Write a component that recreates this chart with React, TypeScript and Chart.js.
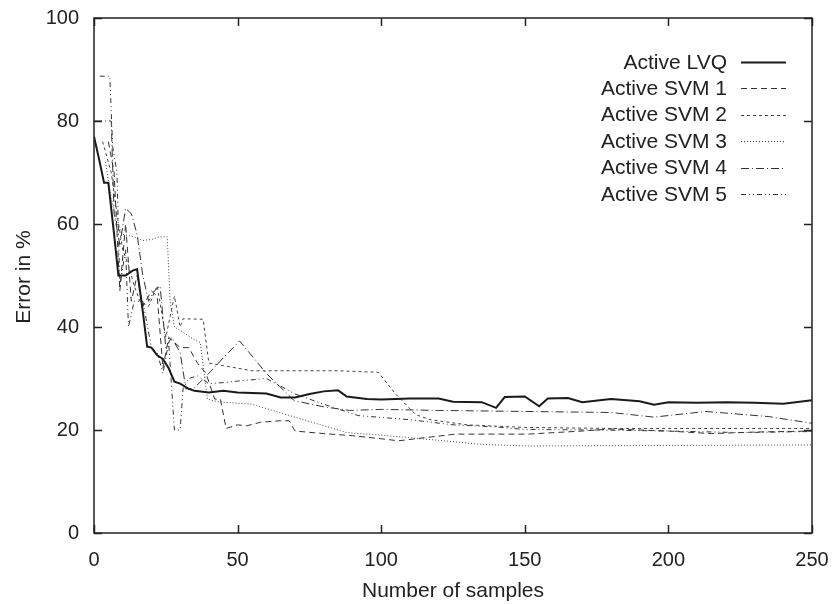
import React, { useEffect, useRef } from "react";
import { Chart, registerables } from "chart.js";

Chart.register(...registerables);

type P = [number, number];

const seriesNames = ["Active LVQ", "Active SVM 1", "Active SVM 2", "Active SVM 3", "Active SVM 4", "Active SVM 5"];

const lvq: P[] = [[0,77],[2,72],[3.5,68],[5,68],[7,58],[8.5,50],[11,50],[13.6,51],[15,51.2],[17,43],[18.5,36.2],[20,36],[22,34.5],[24,33.8],[26,32],[28,29.4],[30,29],[33,28],[35,27.6],[40,27.3],[45,27.6],[50,27.3],[60,27.1],[65,26.3],[70,26.3],[75,27],[80,27.5],[85,27.7],[88,26.5],[95,26],[100,25.9],[110,26.1],[120,26.1],[125,25.5],[135,25.4],[140,24.3],[143,26.4],[150,26.5],[155,24.6],[158,26.1],[165,26.2],[170,25.4],[180,26],[190,25.6],[195,24.9],[200,25.4],[210,25.3],[220,25.4],[230,25.3],[240,25.1],[250,25.8]];

const svm1: P[] = [[5,76],[7,70],[9,47],[11,60],[13,45],[15,50],[17,44],[20,47],[22,46],[24,32],[26,38],[28,37],[30,36],[33,36],[36,33],[39,31],[42,26],[44,26],[46,20.3],[50,21],[53,20.8],[58,21.5],[65,21.8],[68,21.8],[70,19.8],[80,19.3],[90,18.9],[100,18.3],[106,17.9],[115,18.5],[126,19.2],[140,19.2],[151,19.2],[170,19.8],[180,20.2],[200,19.8],[215,19.3],[230,19.6],[250,19.8]];

const svm2: P[] = [[3,76],[6,70],[8,62],[10,55],[12,52],[14,48],[16,45],[19,44],[22,48],[25,38],[28,46],[30,40],[31,41.6],[38,41.5],[40,33],[45,32.5],[50,32],[55,31.5],[70,31.5],[85,31.5],[99,31.2],[105,27],[112,23],[117,22],[130,21],[150,20.5],[180,20.3],[200,20.3],[250,20.3]];

const svm3: P[] = [[4,72],[6,65],[8,60],[10,58],[14,57.5],[17,56.8],[20,57],[23,57.5],[25.5,57.5],[26.5,45],[28,40],[31,39],[35,37.5],[37,37],[39.5,26],[43,25.5],[50,25.2],[55,25],[70,22.5],[88,19.5],[100,19],[120,18],[135,17.2],[151,16.9],[200,17],[250,17.1]];

const svm4: P[] = [[0,80],[6,80],[7,62],[9,56],[11,63],[13,62],[15,58],[17,50],[19,45],[21,47],[23,48],[25,36],[27,38],[30,35],[32,28],[34.6,28],[40,31],[45,34],[50.7,37.3],[60,31],[69.7,25.7],[80,24.5],[89,23.8],[100,24],[120,23.8],[150,23.6],[180,23.4],[195,22.5],[213,23.6],[235,22.6],[250,21.3]];

const svm5: P[] = [[2,88.7],[5.5,88.7],[6.5,75],[8,70],[9,48],[11,55],[12,40],[14,45],[17,45],[20,36],[22,35],[24,31],[26,37],[28,20],[30,20],[31,28],[33,30],[36,30.5],[40,29],[45,29.2],[50,29.5],[60,30],[70,27],[80,25],[92,22.8],[110,22],[125,21],[140,20.6],[150,20.1],[175,20],[200,19.8],[225,19.5],[250,19.7]];

const allSeries: P[][] = [lvq, svm1, svm2, svm3, svm4, svm5];
const xTicks = [0, 50, 100, 150, 200, 250];
const yTicks = [0, 20, 40, 60, 80, 100];

const dashes: number[][] = [[], [6, 4], [3, 3], [1, 2], [8, 3, 1, 3], [5, 3, 1, 3, 1, 3]];
const widths = [2, 1, 1, 1, 1, 1];
const colors = ["#1a1a1a", "#333", "#444", "#444", "#333", "#333"];

const FAMILY = "'Liberation Sans', Arial, sans-serif";
const BIG = "21px " + FAMILY;

const framePlugin = {
  id: "gnuframe",
  afterDraw(chart: any) {
    const { ctx, chartArea: a, scales } = chart;
    const xs = scales.x, ys = scales.y;
    ctx.save();
    ctx.strokeStyle = "#222";
    ctx.lineWidth = 1.5;
    ctx.setLineDash([]);
    ctx.strokeRect(a.left, a.top, a.right - a.left, a.bottom - a.top);
    const tl = 8;
    ctx.beginPath();
    for (const v of xTicks) {
      const px = Math.round(xs.getPixelForValue(v)) + 0.5;
      ctx.moveTo(px, a.bottom); ctx.lineTo(px, a.bottom - tl);
      ctx.moveTo(px, a.top); ctx.lineTo(px, a.top + tl);
    }
    for (const v of yTicks) {
      const py = Math.round(ys.getPixelForValue(v)) + 0.5;
      ctx.moveTo(a.left, py); ctx.lineTo(a.left + tl, py);
      ctx.moveTo(a.right, py); ctx.lineTo(a.right - tl, py);
    }
    ctx.stroke();

    // axis titles
    ctx.fillStyle = "#222";
    ctx.font = BIG;
    ctx.textAlign = "center";
    ctx.textBaseline = "middle";
    ctx.fillText("Number of samples", (a.left + a.right) / 2, 591);
    ctx.save();
    ctx.translate(24, 277);
    ctx.rotate(-Math.PI / 2);
    ctx.fillText("Error in %", 0, 0);
    ctx.restore();

    // legend
    const rowY = [62, 88, 114.5, 141, 167.5, 194];
    ctx.textAlign = "right";
    for (let i = 0; i < seriesNames.length; i++) {
      const y = rowY[i];
      ctx.fillStyle = "#222";
      ctx.fillText(seriesNames[i], 727, y + 1);
      ctx.beginPath();
      ctx.strokeStyle = colors[i];
      ctx.lineWidth = widths[i];
      ctx.setLineDash(dashes[i]);
      ctx.moveTo(741, Math.round(y) + 0.5);
      ctx.lineTo(786, Math.round(y) + 0.5);
      ctx.stroke();
    }
    ctx.restore();
  },
};

export default function App() {
  const ref = useRef<HTMLCanvasElement | null>(null);
  useEffect(() => {
    if (!ref.current) return;
    const chart = new Chart(ref.current, {
      type: "line",
      data: {
        datasets: allSeries.map((s, i) => ({
          label: seriesNames[i],
          data: s.map(([x, y]) => ({ x, y })),
          borderColor: colors[i],
          borderWidth: widths[i],
          borderDash: dashes[i],
          pointRadius: 0,
          fill: false,
          tension: 0,
        })),
      },
      options: {
        animation: false,
        responsive: false,
        devicePixelRatio: 1,
        layout: { padding: { top: 18, right: 21, left: 0, bottom: 0 } },
        plugins: { legend: { display: false }, tooltip: { enabled: false } },
        scales: {
          x: {
            type: "linear",
            min: 0,
            max: 250,
            afterFit: (s: any) => { s.height = 71; s.paddingLeft = 0; s.paddingRight = 0; },
            afterBuildTicks: (s: any) => { s.ticks = xTicks.map((v) => ({ value: v })); },
            grid: { display: false, drawTicks: false },
            border: { display: false },
            ticks: { color: "#222", font: { family: FAMILY, size: 20 }, padding: 15, maxRotation: 0 },
          },
          y: {
            type: "linear",
            min: 0,
            max: 100,
            afterFit: (s: any) => { s.width = 94; s.paddingTop = 0; s.paddingBottom = 0; },
            afterBuildTicks: (s: any) => { s.ticks = yTicks.map((v) => ({ value: v })); },
            grid: { display: false, drawTicks: false },
            border: { display: false },
            ticks: { color: "#222", font: { family: FAMILY, size: 20 }, padding: 15 },
          },
        },
      },
      plugins: [framePlugin],
    });
    return () => chart.destroy();
  }, []);
  return (
    <div style={{ position: "fixed", left: 0, top: 0, width: 833, height: 604, background: "#fff" }}>
      <canvas ref={ref} width={833} height={604} style={{ width: 833, height: 604 }} />
    </div>
  );
}
